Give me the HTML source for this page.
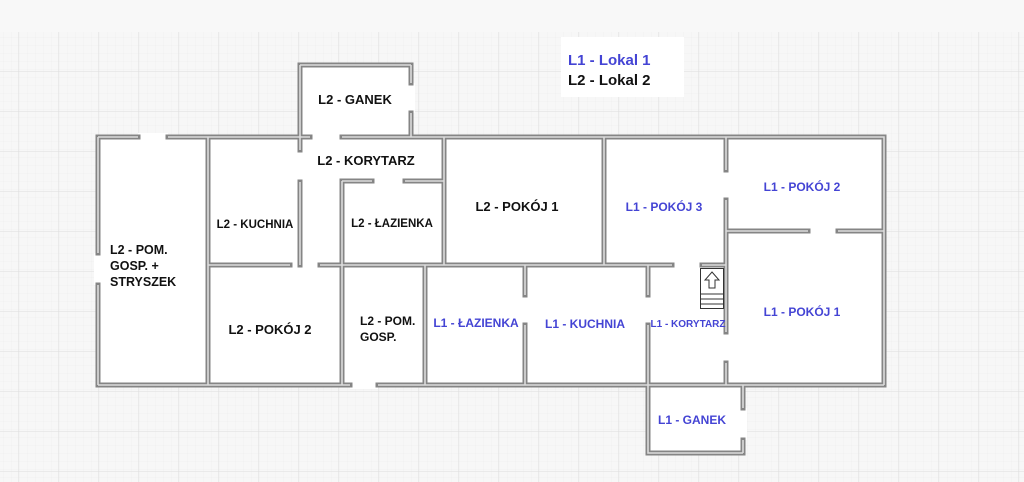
<!DOCTYPE html>
<html><head><meta charset="utf-8"><style>
html,body{margin:0;padding:0;background:#f8f8f8;}
svg{display:block;font-family:"Liberation Sans",Arial,sans-serif;font-weight:bold;}
</style></head><body>
<svg width="1024" height="482" viewBox="0 0 1024 482" xmlns="http://www.w3.org/2000/svg">
<defs>
<pattern id="minor" width="8" height="8" patternUnits="userSpaceOnUse" x="18" y="31">
<path d="M8 0V8M0 8H8" stroke="#ececec" stroke-width="0.6" fill="none"/>
</pattern>
<pattern id="major" width="40" height="40" patternUnits="userSpaceOnUse" x="18" y="31">
<rect width="40" height="40" fill="url(#minor)"/>
<path d="M0 0V40M0 0H40" stroke="#dedede" stroke-width="1" fill="none"/>
</pattern>
</defs>
<rect x="0" y="0" width="1024" height="482" fill="#f8f8f8"/>
<rect x="0" y="32" width="1024" height="450" fill="#f7f7f7"/>
<rect x="0" y="32" width="1024" height="450" fill="url(#major)"/>

<!-- room fills -->
<g fill="#fff">
<rect x="98" y="137" width="788" height="248"/>
<rect x="300" y="65" width="111" height="72"/>
<rect x="648" y="385" width="95" height="68"/>
<rect x="561" y="37" width="123" height="60"/>
<rect x="94" y="253" width="8" height="32"/>
<rect x="138" y="133" width="30" height="8"/>
<rect x="350" y="381" width="28" height="8"/>
<rect x="407" y="83" width="8" height="30"/>
<rect x="739" y="408" width="8" height="32"/>
</g>

<g id="walls" fill="none" stroke-linecap="square">
<g stroke="#858585" stroke-width="5">
<path d="M98 137H138M168 137H310M342 137H884V385M98 385H350M378 385H884M98 137V253M98 285V385
M300 65V137M300 65H411M411 65V83M411 113V137
M208 137V385M300 137V150M300 182V265
M208 265H290M320 265H672M702 265H726
M342 181H372M405 181H444M342 181V265
M444 137V265M604 137V265
M726 137V170M726 200V332M726 363V385
M726 231H808M838 231H884
M342 265V385M425 265V385M525 265V295M525 325V385M648 265V295M648 325V385
M648 385V453H743M743 385V408M743 440V453"/>
</g>
<g stroke="#dcdcdc" stroke-width="1.6" stroke-linecap="butt">
<path d="M98 137H138M168 137H310M342 137H884V385M98 385H350M378 385H884M98 137V253M98 285V385
M300 65V137M300 65H411M411 65V83M411 113V137
M208 137V385M300 137V150M300 182V265
M208 265H290M320 265H672M702 265H726
M342 181H372M405 181H444M342 181V265
M444 137V265M604 137V265
M726 137V170M726 200V332M726 363V385
M726 231H808M838 231H884
M342 265V385M425 265V385M525 265V295M525 325V385M648 265V295M648 325V385
M648 385V453H743M743 385V408M743 440V453"/>
</g>
</g>

<!-- stairs -->
<g stroke="#333" stroke-width="1" fill="#fff">
<rect x="700.5" y="268.5" width="23" height="40"/>
<path d="M712 272L719 280H715V288H709V280H705Z"/>
<path d="M700 294H724M700 299H724M700 304H724" fill="none"/>
</g>

<!-- legend -->
<text x="568" y="65" font-size="15" fill="#4444d4">L1 - Lokal 1</text>
<text x="568" y="85" font-size="15" fill="#111">L2 - Lokal 2</text>

<g fill="#111" text-anchor="middle">
<text x="355" y="104" font-size="13">L2 - GANEK</text>
<text x="366" y="165" font-size="13">L2 - KORYTARZ</text>
<text x="255" y="228" font-size="11.5">L2 - KUCHNIA</text>
<text x="392" y="227" font-size="11.5">L2 - ŁAZIENKA</text>
<text x="517" y="211" font-size="13">L2 - POKÓJ 1</text>
<text x="270" y="334" font-size="13">L2 - POKÓJ 2</text>
</g>
<g fill="#111" font-size="12.5">
<text x="110" y="254">L2 - POM.</text>
<text x="110" y="270">GOSP. +</text>
<text x="110" y="286">STRYSZEK</text>
</g>
<g fill="#111" font-size="12">
<text x="360" y="325">L2 - POM.</text>
<text x="360" y="341">GOSP.</text>
</g>
<g fill="#4444d4" text-anchor="middle" font-size="12">
<text x="664" y="211">L1 - POKÓJ 3</text>
<text x="802" y="191">L1 - POKÓJ 2</text>
<text x="802" y="316">L1 - POKÓJ 1</text>
<text x="585" y="328">L1 - KUCHNIA</text>
<text x="476" y="327">L1 - ŁAZIENKA</text>
<text x="692" y="424">L1 - GANEK</text>
<text x="688" y="327" font-size="10">L1 - KORYTARZ</text>
</g>
</svg>
</body></html>
